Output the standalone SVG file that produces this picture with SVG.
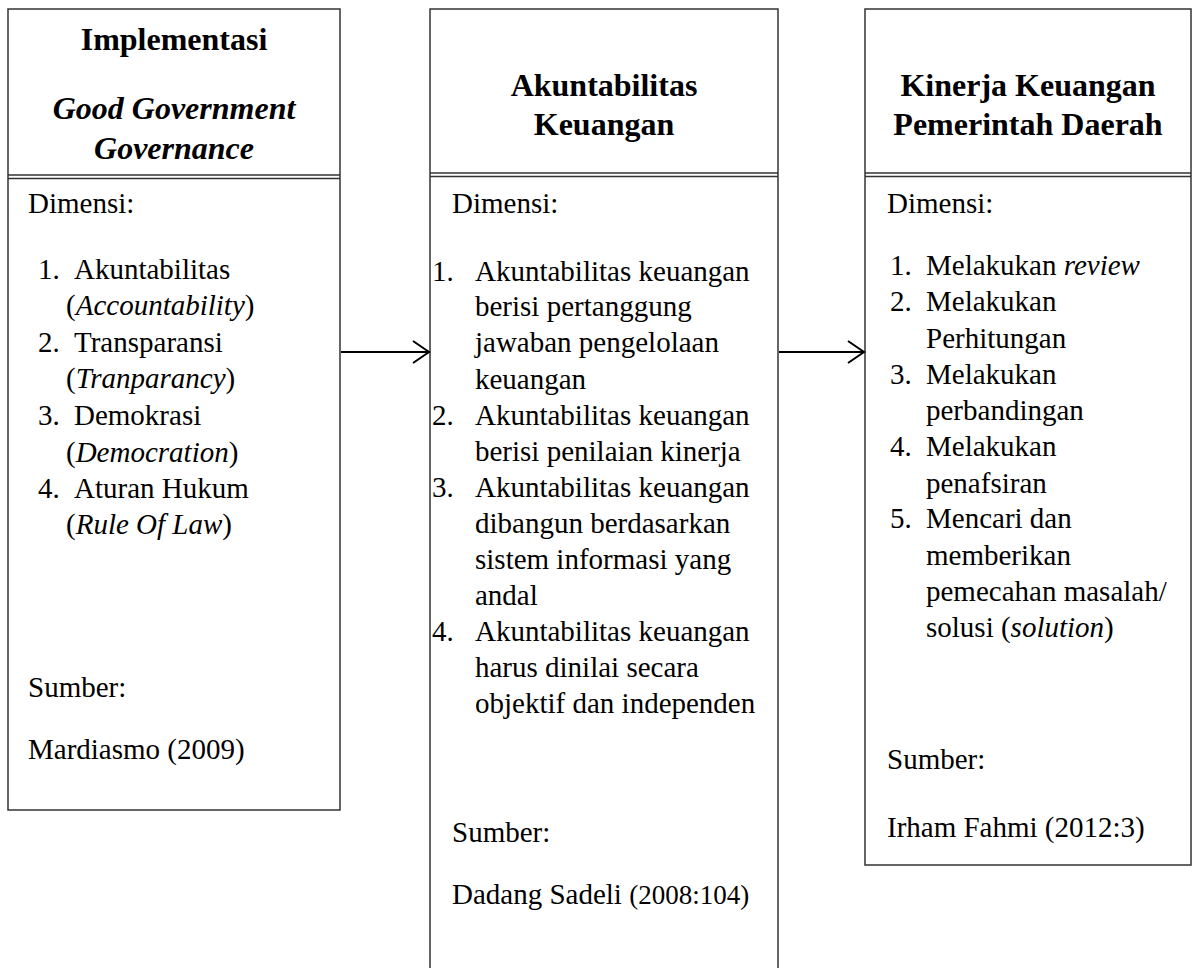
<svg xmlns="http://www.w3.org/2000/svg" width="1192" height="968" viewBox="0 0 1192 968">
<style>
.box{fill:#fff;stroke:#333;stroke-width:1.5}
.sep{stroke:#333;stroke-width:1.5}
.hd{font-family:"Liberation Serif","Times New Roman",serif;font-size:32px;font-weight:bold;text-anchor:middle;fill:#000}
.tx{font-family:"Liberation Serif","Times New Roman",serif;font-size:29px;fill:#000}
.it{font-style:italic}
.sm{font-size:27px}
.con{stroke:#000;stroke-width:2;fill:none}
</style>
<defs>
<marker id="arr" markerWidth="20" markerHeight="26" refX="18" refY="13" orient="auto" markerUnits="userSpaceOnUse">
<path d="M2,2 L18,13 L2,24" fill="none" stroke="#000" stroke-width="2"/>
</marker>
</defs>
<rect width="1192" height="968" fill="#fff"/>
<g id="node-ggg">
<rect class="box" x="8" y="9" width="332" height="801"/>
<line class="sep" x1="8" y1="175" x2="340" y2="175"/>
<line class="sep" x1="8" y1="178.5" x2="340" y2="178.5"/>
<text class="hd" x="174" y="50">Implementasi</text>
<text class="hd it" x="174" y="119">Good Government</text>
<text class="hd it" x="174" y="159">Governance</text>
<text class="tx" x="28" y="213">Dimensi:</text>
<text class="tx" x="38" y="279">1.</text><text class="tx" x="74" y="279">Akuntabilitas</text>
<text class="tx" x="66" y="315">(<tspan class="it">Accountability</tspan>)</text>
<text class="tx" x="38" y="352">2.</text><text class="tx" x="74" y="352">Transparansi</text>
<text class="tx" x="66" y="388">(<tspan class="it">Tranparancy</tspan>)</text>
<text class="tx" x="38" y="425">3.</text><text class="tx" x="74" y="425">Demokrasi</text>
<text class="tx" x="66" y="462">(<tspan class="it">Democration</tspan>)</text>
<text class="tx" x="38" y="498">4.</text><text class="tx" x="74" y="498">Aturan Hukum</text>
<text class="tx" x="66" y="534">(<tspan class="it">Rule Of Law</tspan>)</text>
<text class="tx" x="28" y="697">Sumber:</text>
<text class="tx" x="28" y="759">Mardiasmo (2009)</text>
</g>
<g id="node-ak">
<rect class="box" x="430" y="9" width="348" height="980"/>
<line class="sep" x1="430" y1="173" x2="778" y2="173"/>
<line class="sep" x1="430" y1="176.5" x2="778" y2="176.5"/>
<text class="hd" x="604" y="96">Akuntabilitas</text>
<text class="hd" x="604" y="135">Keuangan</text>
<text class="tx" x="452" y="213">Dimensi:</text>
<text class="tx" x="432" y="281">1.</text><text class="tx" x="475" y="281">Akuntabilitas keuangan</text>
<text class="tx" x="475" y="316">berisi pertanggung</text>
<text class="tx" x="475" y="352">jawaban pengelolaan</text>
<text class="tx" x="475" y="389">keuangan</text>
<text class="tx" x="432" y="425">2.</text><text class="tx" x="475" y="425">Akuntabilitas keuangan</text>
<text class="tx" x="475" y="461">berisi penilaian kinerja</text>
<text class="tx" x="432" y="497">3.</text><text class="tx" x="475" y="497">Akuntabilitas keuangan</text>
<text class="tx" x="475" y="533">dibangun berdasarkan</text>
<text class="tx" x="475" y="569">sistem informasi yang</text>
<text class="tx" x="475" y="605">andal</text>
<text class="tx" x="432" y="641">4.</text><text class="tx" x="475" y="641">Akuntabilitas keuangan</text>
<text class="tx" x="475" y="677">harus dinilai secara</text>
<text class="tx" x="475" y="713">objektif dan independen</text>
<text class="tx" x="452" y="842">Sumber:</text>
<text class="tx" x="452" y="904">Dadang Sadeli <tspan class="sm">(2008:104)</tspan></text>
</g>
<g id="node-kin">
<rect class="box" x="865" y="9" width="326" height="856"/>
<line class="sep" x1="865" y1="173" x2="1191" y2="173"/>
<line class="sep" x1="865" y1="176.5" x2="1191" y2="176.5"/>
<text class="hd" x="1028" y="96">Kinerja Keuangan</text>
<text class="hd" x="1028" y="135">Pemerintah Daerah</text>
<text class="tx" x="887" y="213">Dimensi:</text>
<text class="tx" x="890" y="275">1.</text><text class="tx" x="926" y="275">Melakukan <tspan class="it">review</tspan></text>
<text class="tx" x="890" y="311">2.</text><text class="tx" x="926" y="311">Melakukan</text>
<text class="tx" x="926" y="348">Perhitungan</text>
<text class="tx" x="890" y="384">3.</text><text class="tx" x="926" y="384">Melakukan</text>
<text class="tx" x="926" y="420">perbandingan</text>
<text class="tx" x="890" y="456">4.</text><text class="tx" x="926" y="456">Melakukan</text>
<text class="tx" x="926" y="493">penafsiran</text>
<text class="tx" x="890" y="528">5.</text><text class="tx" x="926" y="528">Mencari dan</text>
<text class="tx" x="926" y="565">memberikan</text>
<text class="tx" x="926" y="601">pemecahan masalah/</text>
<text class="tx" x="926" y="637">solusi (<tspan class="it">solution</tspan>)</text>
<text class="tx" x="887" y="769">Sumber:</text>
<text class="tx" x="887" y="837">Irham Fahmi (2012:3)</text>
</g>
<g id="connectors">
<line class="con" x1="341" y1="352" x2="429" y2="352" marker-end="url(#arr)"/>
<line class="con" x1="779" y1="352" x2="864" y2="352" marker-end="url(#arr)"/>
</g>
</svg>
